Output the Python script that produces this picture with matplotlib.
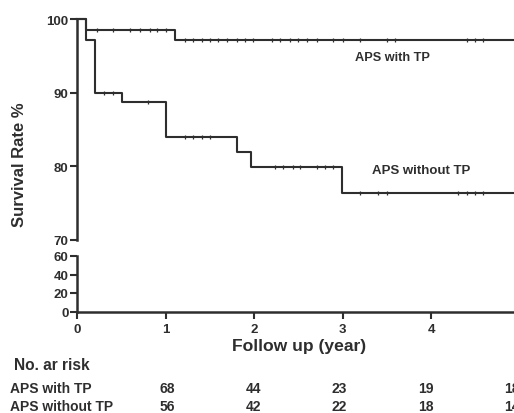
import matplotlib
matplotlib.use("Agg")
import matplotlib.pyplot as plt

plt.rcParams['font.family'] = ['Liberation Sans', 'DejaVu Sans']
plt.rcParams['font.weight'] = 'bold'

# Kaplan-Meier step data
with_tp_times = [0, 0.10, 1.11, 5.0]
with_tp_surv = [100, 98.5, 97.2, 97.2]
with_tp_censor_t = [0.23, 0.41, 0.6, 0.71, 0.82, 0.9, 1.0,
                    1.22, 1.31, 1.41, 1.50, 1.59, 1.69, 1.81, 1.90, 1.99,
                    2.2, 2.29, 2.41, 2.5, 2.6, 2.71, 2.89, 3.0, 3.2, 3.5, 3.59,
                    4.41, 4.5, 4.59]

without_tp_times = [0, 0.10, 0.20, 0.51, 1.0, 1.81, 1.97, 2.99, 5.0]
without_tp_surv = [100, 97.2, 90.0, 88.7, 84.0, 82.0, 79.9, 76.4, 76.4]
without_tp_censor_t = [0.3, 0.41, 0.8, 1.22, 1.31, 1.41, 1.5,
                       2.24, 2.33, 2.44, 2.52, 2.71, 2.8, 2.89,
                       3.2, 3.4, 3.5, 4.3, 4.41, 4.5, 4.59]

# Number at risk
risk_times = [1, 2, 3, 4, 5]
risk_with_tp = [68, 44, 23, 19, 18]
risk_without_tp = [56, 42, 22, 18, 14]

x_ticks = [0, 1, 2, 3, 4, 5]
top_yticks = [70, 80, 90, 100]
bottom_yticks = [0, 20, 40, 60]

col = '#2e2e2e'
W, H = 514, 414
fig = plt.figure(figsize=(W / 100, H / 100), dpi=100)

left = 77 / W
right = 519.5 / W
ax_top = fig.add_axes([left, 1 - 241 / H, right - left, 221 / H])
ax_bot = fig.add_axes([left, 1 - 312.5 / H, right - left, 55.5 / H])


def surv_at(times, surv, t):
    v = surv[0]
    for tt, s in zip(times, surv):
        if t >= tt:
            v = s
    return v


for times, surv, cens in [(with_tp_times, with_tp_surv, with_tp_censor_t),
                          (without_tp_times, without_tp_surv, without_tp_censor_t)]:
    ax_top.step(times, surv, where='post', color=col, lw=1.5, clip_on=False)
    cy = [surv_at(times, surv, t) for t in cens]
    ax_top.plot(cens, cy, ls='none', marker='|', ms=3, mew=0.9, color=col)

ax_top.set_xlim(0, 5)
ax_top.set_ylim(70, 100)
ax_top.set_yticks(top_yticks)
ax_top.set_xticks([])
for s in ['top', 'right', 'bottom']:
    ax_top.spines[s].set_visible(False)
ax_top.spines['left'].set_linewidth(1.8)
ax_top.spines['left'].set_color(col)
ax_top.tick_params(axis='y', direction='out', length=5, width=1.5, color=col,
                   labelsize=9.5, labelcolor=col, pad=1)

ax_bot.set_xlim(0, 5)
ax_bot.set_ylim(0, 60)
ax_bot.set_yticks(bottom_yticks)
ax_bot.set_xticks(x_ticks)
for s in ['top', 'right']:
    ax_bot.spines[s].set_visible(False)
for s in ['left', 'bottom']:
    ax_bot.spines[s].set_linewidth(1.8)
    ax_bot.spines[s].set_color(col)
ax_bot.tick_params(axis='both', direction='out', length=5, width=1.5, color=col,
                   labelsize=9.5, labelcolor=col, pad=3)
ax_bot.tick_params(axis='y', pad=1)

for lab in ax_top.get_yticklabels() + ax_bot.get_yticklabels() + ax_bot.get_xticklabels():
    lab.set_fontweight('bold')

ax_top.text((392.5 - 77) / 88.5, 94.8, 'APS with TP', ha='center', va='center',
            fontsize=9.2, fontweight='bold', color=col)
ax_top.text((421.5 - 77) / 88.5, 79.5, 'APS without TP', ha='center', va='center',
            fontsize=9.5, fontweight='bold', color=col)

fig.text(20 / W, 1 - 165 / H, 'Survival Rate %', rotation=90, ha='center', va='center',
         fontsize=12, fontweight='bold', color=col)
fig.text(299 / W, 1 - 347 / H, 'Follow up (year)', ha='center', va='center',
         fontsize=12.6, fontweight='bold', color=col)

fig.text(14 / W, 1 - 366 / H, 'No. ar risk', ha='left', va='center',
         fontsize=11.2, fontweight='bold', color=col)
fig.text(10 / W, 1 - 389 / H, 'APS with TP', ha='left', va='center',
         fontsize=10, fontweight='bold', color=col)
fig.text(10 / W, 1 - 407 / H, 'APS without TP', ha='left', va='center',
         fontsize=10, fontweight='bold', color=col)

# at-risk columns sit slightly left of the axis ticks in the reference
for t, a, b in zip(risk_times, risk_with_tp, risk_without_tp):
    xpx = 167.5 + 86.0 * (t - 1)
    fig.text(xpx / W, 1 - 389 / H, str(a), ha='center', va='center',
             fontsize=10, fontweight='bold', color=col)
    fig.text(xpx / W, 1 - 407 / H, str(b), ha='center', va='center',
             fontsize=10, fontweight='bold', color=col)

fig.savefig('out.png', dpi=100)
